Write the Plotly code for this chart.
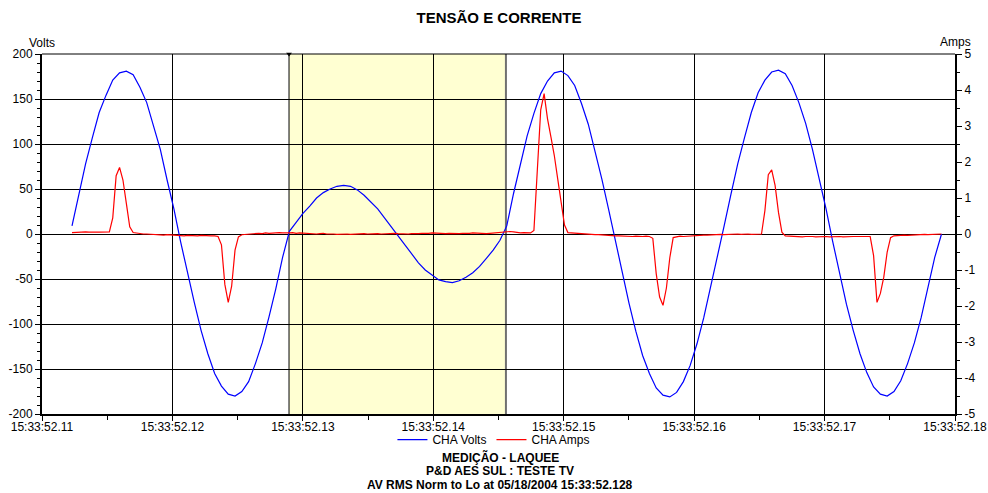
import plotly.graph_objects as go

# ---- chart data ----------------------------------------------------------
title_text = "TENSÃO E CORRENTE"
footer_lines = [
    "MEDIÇÃO - LAQUEE",
    "P&D AES SUL : TESTE TV",
    "AV RMS Norm to Lo at 05/18/2004 15:33:52.128",
]

start_time = 52.1123          # seconds past 15:33
volts_rate = 1920             # samples per second (32 per 60 Hz cycle)
amps_rate = 3840              # samples per second (64 per 60 Hz cycle)

volts = [
    9, 43, 78, 107, 135, 154, 171, 179, 181, 177, 163, 146, 121, 94, 60, 28,
    -9, -44, -76, -107, -133, -155, -169, -178, -180, -175, -164, -144, -121, -92, -61, -26,
    3, 13, 23, 31, 40, 46, 50, 53, 54, 53, 49, 43, 36, 28, 18, 8,
    -3, -13, -22, -32, -40, -46, -51, -53, -54, -52, -48, -43, -36, -27, -18, -7,
    9, 45, 77, 109, 134, 156, 170, 179, 181, 176, 165, 145, 122, 92, 61, 27,
    -9, -43, -77, -108, -135, -155, -171, -179, -181, -176, -164, -146, -122, -93, -60, -27,
    9, 44, 78, 107, 135, 157, 171, 180, 182, 178, 165, 146, 123, 94, 61, 28,
    -9, -44, -78, -107, -133, -154, -170, -178, -180, -175, -163, -144, -121, -93, -60, -26,
    0,
]

amps = [
    0.04, 0.05, 0.04, 0.05, 0.06, 0.05, 0.04, 0.05, 0.05, 0.06,
    0.05, 0.06, 0.45, 1.62, 1.85, 1.50, 0.85, 0.20, 0.04, 0.02,
    0.01, 0.00, 0.00, -0.01, -0.01, -0.02, -0.02, -0.03, -0.02, -0.03,
    -0.04, -0.03, -0.04, -0.05, -0.04, -0.05, -0.06, -0.05, -0.04, -0.05,
    -0.06, -0.05, -0.05, -0.07, -0.30, -1.40, -1.90, -1.45, -0.45, -0.08,
    -0.02, -0.01, 0.00, 0.01, 0.00, 0.02, 0.01, 0.03, 0.02, 0.03,
    0.02, 0.04, 0.03, 0.02, 0.03, 0.04, 0.02, 0.03, 0.02, 0.01,
    0.02, 0.01, 0.00, 0.01, 0.02, 0.00, 0.01, 0.00, -0.01, 0.00,
    0.01, 0.00, -0.01, 0.00, 0.01, 0.00, 0.01, 0.00, 0.01, 0.02,
    0.01, 0.00, 0.01, 0.00, 0.01, 0.02, 0.01, 0.00, 0.01, 0.00,
    0.01, 0.00, 0.01, 0.02, 0.01, 0.02, 0.03, 0.02, 0.01, 0.02,
    0.01, 0.02, 0.01, 0.00, 0.01, 0.02, 0.01, 0.02, 0.03, 0.02,
    0.01, 0.02, 0.01, 0.02, 0.03, 0.02, 0.03, 0.04, 0.06, 0.07,
    0.06, 0.04, 0.03, 0.04, 0.03, 0.03, 0.10, 1.72, 3.45, 3.90,
    3.20, 2.70, 2.18, 1.53, 0.85, 0.25, 0.04, 0.03, 0.02, 0.02,
    0.01, 0.00, 0.00, -0.01, -0.02, -0.02, -0.03, -0.03, -0.04, -0.04,
    -0.05, -0.05, -0.06, -0.05, -0.06, -0.07, -0.06, -0.07, -0.07, -0.06,
    -0.07, -0.12, -1.10, -1.75, -1.98, -1.50, -0.66, -0.10, -0.07, -0.06,
    -0.07, -0.06, -0.05, -0.05, -0.04, -0.04, -0.03, -0.03, -0.02, -0.03,
    -0.02, -0.01, -0.02, -0.01, 0.00, -0.01, 0.00, -0.01, 0.00, 0.00,
    -0.01, 0.00, 0.00, 0.00, 0.65, 1.65, 1.78, 1.35, 0.60, 0.05,
    -0.05, -0.06, -0.07, -0.06, -0.07, -0.08, -0.07, -0.06, -0.07, -0.08,
    -0.07, -0.08, -0.07, -0.08, -0.07, -0.06, -0.07, -0.08, -0.07, -0.08,
    -0.07, -0.07, -0.08, -0.07, -0.07, -0.07, -0.60, -1.90, -1.65, -1.20,
    -0.50, -0.10, -0.05, -0.04, -0.05, -0.03, -0.04, -0.03, -0.02, -0.03,
    -0.02, -0.01, -0.02, -0.01, 0.00, -0.01, 0.00,
]

tick_times = [52.11, 52.12, 52.13, 52.14, 52.15, 52.16, 52.17, 52.18]
tick_labels = ["15:33:52.11", "15:33:52.12", "15:33:52.13", "15:33:52.14",
               "15:33:52.15", "15:33:52.16", "15:33:52.17", "15:33:52.18"]
minor_times = [52.115, 52.125, 52.135, 52.145, 52.155, 52.165, 52.175]

volt_ticks = [-200, -150, -100, -50, 0, 50, 100, 150, 200]
amp_ticks = [-5, -4, -3, -2, -1, 0, 1, 2, 3, 4, 5]

cursor_start = 52.12894
cursor_end = 52.14557

# ---- sample times ----------------------------------------------------------
t_volts = [start_time + i / volts_rate for i in range(len(volts))]
t_amps = [start_time + i / amps_rate for i in range(len(amps))]

FONT = "Liberation Sans, Arial, sans-serif"

fig = go.Figure()
fig.add_trace(go.Scatter(
    x=t_volts, y=volts, name="CHA Volts", mode="lines",
    line=dict(color="#0000ff", width=1.2),
))
fig.add_trace(go.Scatter(
    x=t_amps, y=amps, name="CHA Amps", mode="lines",
    line=dict(color="#ff0000", width=1.2), yaxis="y2",
))
# cursor marker above the plot
fig.add_trace(go.Scatter(
    x=[cursor_start], y=[volt_ticks[-1]], mode="markers",
    marker=dict(symbol="triangle-down", size=5, color="black"),
    cliponaxis=False, showlegend=False, hoverinfo="skip",
))

# highlighted cycle between the two cursors
fig.add_shape(type="rect", xref="x", yref="paper",
              x0=cursor_start, x1=cursor_end, y0=0, y1=1,
              fillcolor="#ffffd2", line=dict(width=0), layer="below")
fig.add_shape(type="line", xref="x", yref="paper",
              x0=cursor_start, x1=cursor_start, y0=0, y1=1,
              line=dict(color="black", width=1), layer="below")
fig.add_shape(type="line", xref="x", yref="paper",
              x0=cursor_end, x1=cursor_end, y0=0, y1=1,
              line=dict(color="#707070", width=2), layer="below")
# top frame edge
fig.add_shape(type="line", xref="paper", yref="paper",
              x0=0, x1=1, y0=1, y1=1, line=dict(color="black", width=1))

axis_common = dict(
    ticks="outside", ticklen=5, tickcolor="black", tickwidth=1,
    showline=True, linecolor="black", linewidth=2, automargin=False,
    zeroline=False, tickfont=dict(size=12, color="black", family=FONT),
)

fig.update_layout(
    width=988, height=493, autosize=False,
    margin=dict(l=42, r=33, t=54, b=79),
    paper_bgcolor="white", plot_bgcolor="white",
    font=dict(family=FONT, size=12, color="black"),
    title=dict(text="<b>" + title_text + "</b>", x=499 / 988, xanchor="center",
               y=1 - 18 / 493, yanchor="middle",
               font=dict(size=15, family=FONT, color="black")),
    xaxis=dict(
        range=[tick_times[0], tick_times[-1]],
        tickmode="array", tickvals=tick_times, ticktext=tick_labels,
        ticklabelstandoff=-4,
        showgrid=True, gridcolor="black", gridwidth=1,
        minor=dict(tickmode="array", tickvals=minor_times, ticks="outside",
                   ticklen=4, tickcolor="black", showgrid=False),
        **axis_common,
    ),
    yaxis=dict(
        range=[volt_ticks[0], volt_ticks[-1]],
        tickmode="array", tickvals=volt_ticks,
        ticktext=[str(v) for v in volt_ticks],
        showgrid=True, gridcolor="black", gridwidth=1,
        minor=dict(dtick=10, tick0=0, ticks="outside", ticklen=3,
                   tickcolor="black", showgrid=False),
        **axis_common,
    ),
    yaxis2=dict(
        overlaying="y", side="right",
        range=[amp_ticks[0], amp_ticks[-1]],
        tickmode="array", tickvals=amp_ticks,
        ticktext=[str(v) for v in amp_ticks],
        showgrid=False,
        minor=dict(dtick=0.5, tick0=0, ticks="outside", ticklen=3,
                   tickcolor="black", showgrid=False),
        **axis_common,
    ),
    legend=dict(orientation="h", x=0.495, xanchor="center",
                y=-0.071, yanchor="middle", itemwidth=30,
                bgcolor="rgba(0,0,0,0)",
                font=dict(size=12, family=FONT, color="black")),
    showlegend=True,
)

# axis unit labels
fig.add_annotation(text="Volts", xref="paper", yref="paper", x=0, y=1 + 11 / 360,
                   xanchor="center", yanchor="middle", showarrow=False,
                   font=dict(size=12, family=FONT, color="black"))
fig.add_annotation(text="Amps", xref="paper", yref="paper", x=1, y=1 + 12 / 360,
                   xanchor="center", yanchor="middle", showarrow=False,
                   font=dict(size=12, family=FONT, color="black"))

# footer lines
for k, line in enumerate(footer_lines):
    fig.add_annotation(text="<b>" + line + "</b>", xref="paper", yref="paper",
                       x=(500 - 42) / 913, y=-(43 + 14 * k) / 360,
                       xanchor="center", yanchor="middle", showarrow=False,
                       font=dict(size=12, family=FONT, color="black"))

fig.write_html("out.html")
